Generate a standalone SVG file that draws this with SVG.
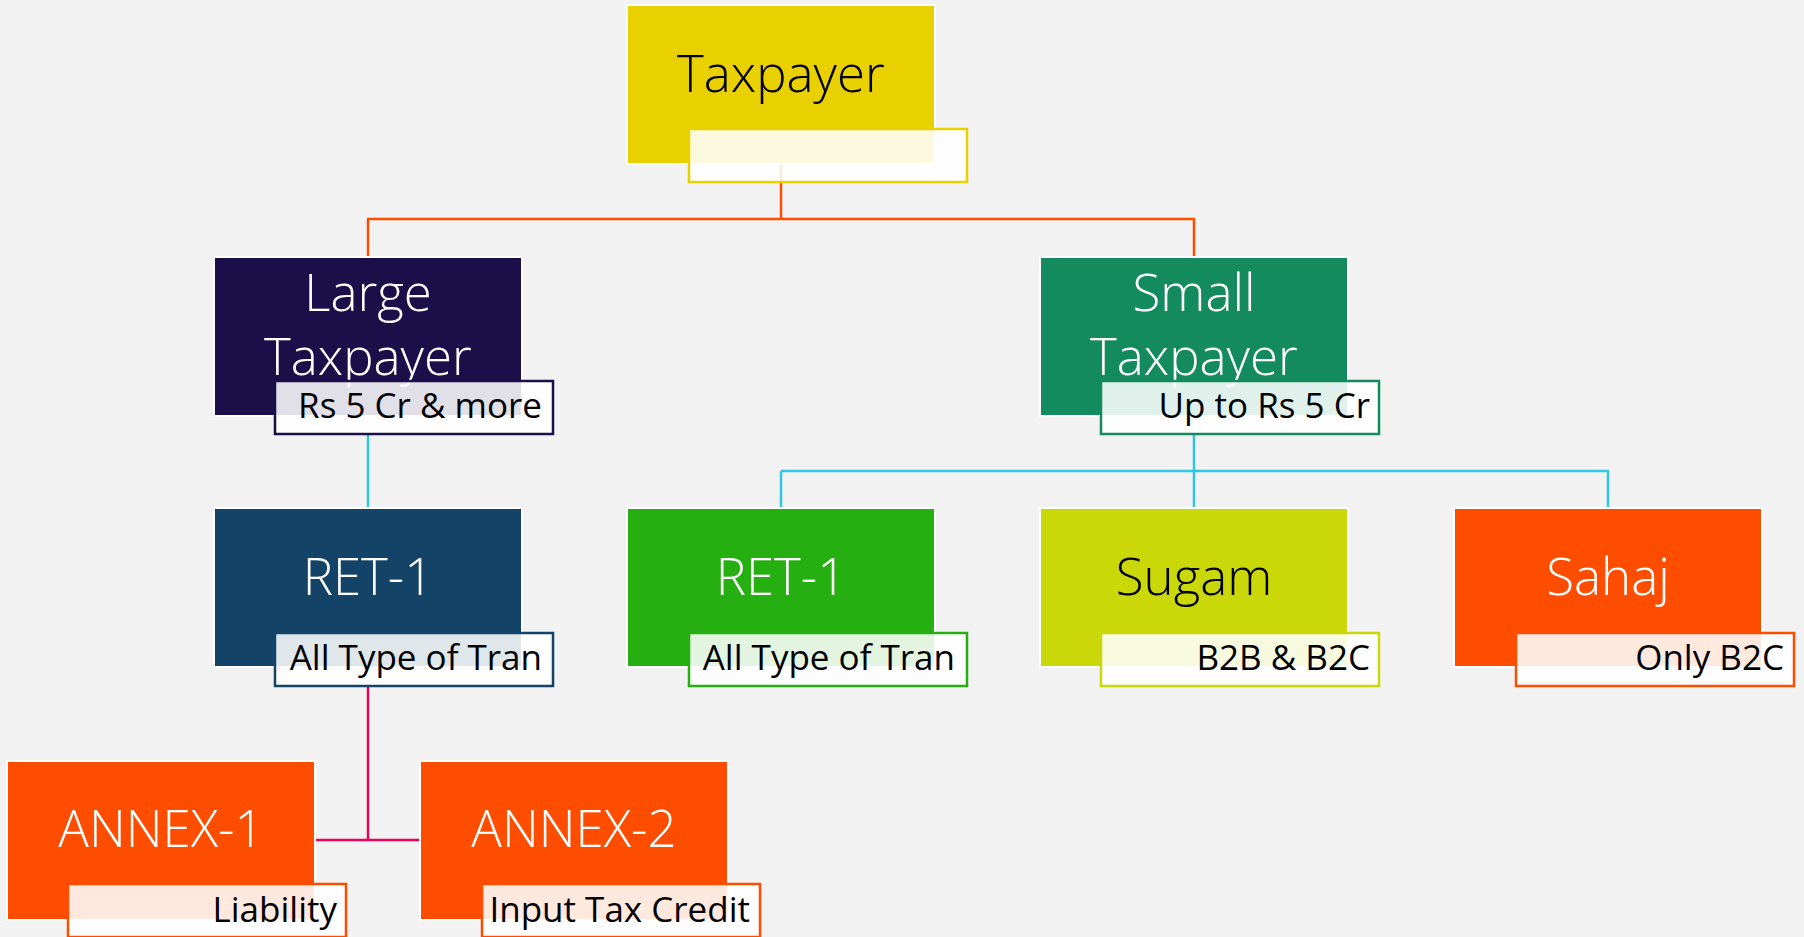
<svg xmlns="http://www.w3.org/2000/svg" width="1804" height="937" viewBox="0 0 1804 937">
<style>
.box{stroke:#FFFFFF;stroke-width:2}
.lbl{fill:#FFFFFF;fill-opacity:0.87;stroke-width:2.5}
.main{font-family:"Open Sans","Noto Sans",sans-serif;font-weight:300;font-size:51px;text-anchor:middle;fill:#FFFFFF}
.sub{font-family:"Open Sans","Noto Sans",sans-serif;font-size:35px;text-anchor:end;fill:#000000}
.c{fill:none;stroke-width:2.5}
</style>
<rect width="1804" height="937" fill="#F2F2F2"/>
<g id="connectors">
<path class="c" stroke="#FF4D00" d="M781 164V219M367 219H1195M368 219V257M1194 219V257"/>
<path class="c" stroke="#2FC6E2" d="M368 434V508M1194 434V471M781 471H1609M781 471V508M1194 471V508M1608 471V508"/>
<path class="c" stroke="#E8005A" d="M368 686V840M316 840H420"/>
</g>
<g id="taxpayer">
<rect class="box" x="627" y="5" width="308" height="159" fill="#E9D000"/>
<rect class="lbl" x="689" y="129" width="278" height="53" stroke="#E9D000"/>
<text class="main" x="781" y="92" style="fill:#000000">Taxpayer</text>
</g>
<g id="large-taxpayer">
<rect class="box" x="214" y="257" width="308" height="159" fill="#1B0F4A"/>
<text class="main" x="368" y="311">Large</text>
<text class="main" x="368" y="375">Taxpayer</text>
<rect class="lbl" x="275" y="381" width="278" height="53" stroke="#1B0F4A"/>
<text class="sub" x="542" y="418">Rs 5 Cr &amp; more</text>
</g>
<g id="small-taxpayer">
<rect class="box" x="1040" y="257" width="308" height="159" fill="#138B5E"/>
<text class="main" x="1194" y="311">Small</text>
<text class="main" x="1194" y="375">Taxpayer</text>
<rect class="lbl" x="1101" y="381" width="278" height="53" stroke="#138B5E"/>
<text class="sub" x="1370" y="418">Up to Rs 5 Cr</text>
</g>
<g id="ret1-large">
<rect class="box" x="214" y="508" width="308" height="159" fill="#134467"/>
<text class="main" x="368" y="595">RET-1</text>
<rect class="lbl" x="275" y="633" width="278" height="53" stroke="#134467"/>
<text class="sub" x="542" y="670">All Type of Tran</text>
</g>
<g id="ret1-small">
<rect class="box" x="627" y="508" width="308" height="159" fill="#26AF10"/>
<text class="main" x="781" y="595">RET-1</text>
<rect class="lbl" x="689" y="633" width="278" height="53" stroke="#26AF10"/>
<text class="sub" x="955" y="670">All Type of Tran</text>
</g>
<g id="sugam">
<rect class="box" x="1040" y="508" width="308" height="159" fill="#CAD709"/>
<text class="main" x="1194" y="595" style="fill:#000000">Sugam</text>
<rect class="lbl" x="1101" y="633" width="278" height="53" stroke="#CAD709"/>
<text class="sub" x="1370" y="670">B2B &amp; B2C</text>
</g>
<g id="sahaj">
<rect class="box" x="1454" y="508" width="308" height="159" fill="#FF4D00"/>
<text class="main" x="1608" y="595">Sahaj</text>
<rect class="lbl" x="1516" y="633" width="278" height="53" stroke="#FF4D00"/>
<text class="sub" x="1784" y="670">Only B2C</text>
</g>
<g id="annex1">
<rect class="box" x="7" y="761" width="308" height="159" fill="#FF4D00"/>
<text class="main" x="161" y="847">ANNEX-1</text>
<rect class="lbl" x="68" y="884" width="278" height="53" stroke="#FF4D00"/>
<text class="sub" x="337" y="922">Liability</text>
</g>
<g id="annex2">
<rect class="box" x="420" y="761" width="308" height="159" fill="#FF4D00"/>
<text class="main" x="574" y="847">ANNEX-2</text>
<rect class="lbl" x="482" y="884" width="278" height="53" stroke="#FF4D00"/>
<text class="sub" x="750" y="922">Input Tax Credit</text>
</g>
</svg>
